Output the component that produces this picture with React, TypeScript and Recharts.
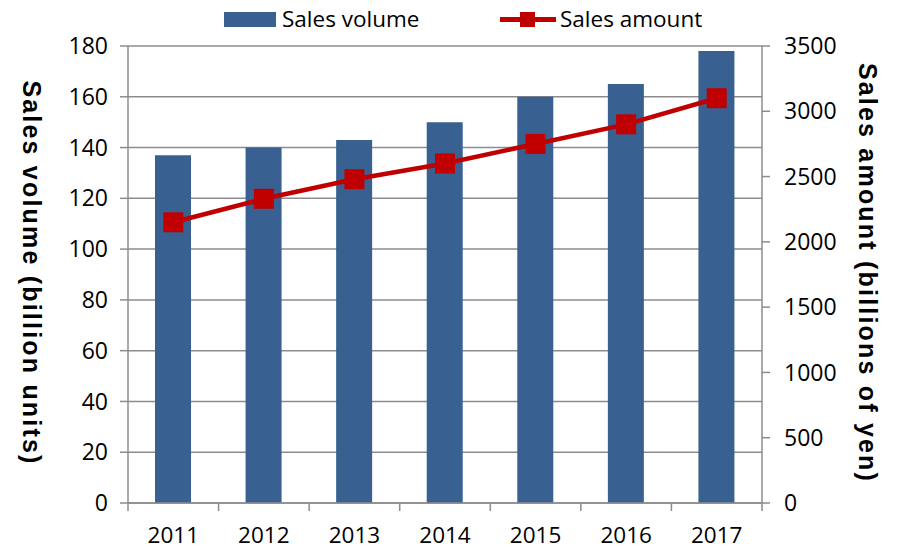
import React from "react"
import { ComposedChart, Bar, Line, XAxis, YAxis, CartesianGrid } from "recharts"

const years = ["2011", "2012", "2013", "2014", "2015", "2016", "2017"]
const salesVolume = [137, 140, 143, 150, 160, 165, 178]
const salesAmount = [2150, 2330, 2480, 2600, 2750, 2900, 3100]
const volumeTicks = [0, 20, 40, 60, 80, 100, 120, 140, 160, 180]
const amountTicks = [0, 500, 1000, 1500, 2000, 2500, 3000, 3500]

const data = years.map((year, i) => ({
  year,
  volume: salesVolume[i],
  amount: salesAmount[i],
}))

const BAR = "#386192"
const RED = "#C00000"
const GRID = "#8C8C8C"
const TICK_FONT = "'Open Sans', sans-serif"
const TITLE_FONT = "'Liberation Sans', Arial, sans-serif"

const HALF_BAND = (762 - 128) / years.length / 2

function YearTick(props: any) {
  const { x, y, payload, index } = props
  return (
    <g>
      <line x1={x - HALF_BAND} y1={y} x2={x - HALF_BAND} y2={y + 8} stroke={GRID} strokeWidth={1.5} />
      {index === years.length - 1 && (
        <line x1={x + HALF_BAND} y1={y} x2={x + HALF_BAND} y2={y + 8} stroke={GRID} strokeWidth={1.5} />
      )}
      <text x={x} y={y + 40} textAnchor="middle" fontSize={22.5} fontFamily={TICK_FONT} fill="#000">
        {payload.value}
      </text>
    </g>
  )
}

function SquareDot(props: any) {
  const { cx, cy } = props
  if (cx == null || cy == null) return null
  return <rect x={cx - 10} y={cy - 10} width={20} height={20} fill={RED} />
}

function ChartLegend() {
  return (
    <svg width={899} height={40} style={{ position: "absolute", left: 0, top: 0 }}>
      <rect x={224} y={12} width={52} height={15} fill={BAR} />
      <text x={282} y={27} fontSize={22.5} fontFamily={TICK_FONT} fill="#000">Sales volume</text>
      <line x1={500} y1={19.5} x2={556} y2={19.5} stroke={RED} strokeWidth={5} />
      <rect x={520} y={12} width={15} height={15} fill={RED} />
      <text x={560} y={27} fontSize={22.5} fontFamily={TICK_FONT} fill="#000">Sales amount</text>
    </svg>
  )
}

function AxisTitle({ x, text }: { x: number; text: string }) {
  return (
    <text
      x={x}
      y={273}
      transform={`rotate(90 ${x} 273)`}
      textAnchor="middle"
      dominantBaseline="central"
      fontSize={25}
      fontWeight="bold"
      letterSpacing={2.2}
      fontFamily={TITLE_FONT}
      fill="#000"
    >
      {text}
    </text>
  )
}

export default function App() {
  return (
    <div style={{ position: "absolute", left: 0, top: 0, width: 899, height: 549, background: "#fff" }}>
      <ComposedChart width={899} height={549} data={data} margin={{ top: 46, right: 0, bottom: 0, left: 0 }}>
        <CartesianGrid vertical={false} stroke={GRID} strokeWidth={1.5} yAxisId="left" />
        <XAxis
          dataKey="year"
          height={46}
          tickLine={false}
          tickSize={0}
          tickMargin={0}
          axisLine={{ stroke: GRID, strokeWidth: 1.5 }}
          tick={<YearTick />}
          interval={0}
        />
        <YAxis
          yAxisId="left"
          width={128}
          domain={[0, 180]}
          ticks={volumeTicks}
          tickSize={8}
          tickMargin={12}
          tickLine={{ stroke: GRID, strokeWidth: 1.5 }}
          axisLine={{ stroke: GRID, strokeWidth: 1.5 }}
          tick={{ fontSize: 23, fontFamily: TICK_FONT, fill: "#000" }}
          label={{ content: () => <AxisTitle x={32} text="Sales volume (billion units)" /> }}
        />
        <YAxis
          yAxisId="right"
          orientation="right"
          width={137}
          domain={[0, 3500]}
          ticks={amountTicks}
          tickSize={8}
          tickMargin={14}
          tickLine={{ stroke: GRID, strokeWidth: 1.5 }}
          axisLine={{ stroke: GRID, strokeWidth: 1.5 }}
          tick={{ fontSize: 23, fontFamily: TICK_FONT, fill: "#000" }}
          label={{ content: () => <AxisTitle x={868} text="Sales amount (billions of yen)" /> }}
        />
        <Bar yAxisId="left" dataKey="volume" name="Sales volume" fill={BAR} barSize={36} isAnimationActive={false} />
        <Line
          yAxisId="right"
          dataKey="amount"
          name="Sales amount"
          type="linear"
          stroke={RED}
          strokeWidth={4.5}
          dot={<SquareDot />}
          activeDot={false}
          isAnimationActive={false}
        />
      </ComposedChart>
      <ChartLegend />
    </div>
  )
}
